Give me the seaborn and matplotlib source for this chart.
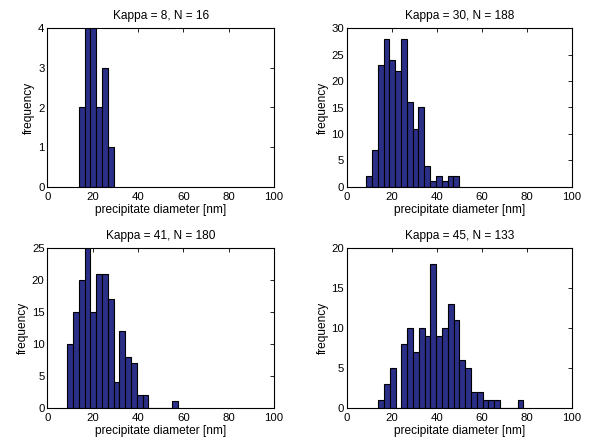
import numpy as np
import pandas as pd
import matplotlib
matplotlib.use("Agg")
import matplotlib.pyplot as plt
import seaborn as sns

sns.set_theme(style="white")
plt.rcParams['font.family'] = ['Liberation Sans', 'DejaVu Sans']
plt.rcParams['text.color'] = 'black'
plt.rcParams['axes.labelcolor'] = 'black'

titles = ["Kappa = 8, N = 16", "Kappa = 30, N = 188",
          "Kappa = 41, N = 180", "Kappa = 45, N = 133"]

# histogram counts per bin
counts_k8 = [2, 4, 4, 2, 3, 1]
counts_k30 = [2, 7, 23, 28, 24, 22, 28, 16, 11, 15, 4, 1, 2, 1, 2, 2]
counts_k41 = [10, 15, 20, 25, 15, 21, 21, 17, 4, 12, 8, 7, 2, 2, 0, 0, 0, 0, 1]
counts_k45 = [1, 3, 5, 0, 8, 10, 7, 10, 9, 18, 9, 10, 13, 11, 6, 5, 2, 2,
              1, 1, 1, 0, 0, 0, 1]

# first bin edge and bin width [nm]
bin_starts = [13.8, 8.6, 8.8, 14.0]
bin_widths = [2.62, 2.59, 2.56, 2.58]

y_maxes = [4, 30, 25, 20]
y_steps = [1, 5, 5, 5]
x_ticks = [0, 20, 40, 60, 80, 100]

all_counts = [counts_k8, counts_k30, counts_k41, counts_k45]

W, H = 593, 444
fig = plt.figure(figsize=(W / 100, H / 100), dpi=100)

positions = [
    [47.3 / W, 1 - 186.7 / H, 226.7 / W, 158.4 / H],
    [346.7 / W, 1 - 186.7 / H, 225.0 / W, 158.4 / H],
    [47.3 / W, 1 - 407.7 / H, 226.7 / W, 159.4 / H],
    [346.7 / W, 1 - 407.7 / H, 225.0 / W, 159.4 / H],
]

bar_color = "#2b2f87"
fs_label = 8.6
fs_tick = 8.2

for i in range(4):
    ax = fig.add_axes(positions[i])
    counts = np.array(all_counts[i], dtype=float)
    n = len(counts)
    edges = bin_starts[i] + bin_widths[i] * np.arange(n + 1)
    centers = (edges[:-1] + edges[1:]) / 2
    df = pd.DataFrame({"diameter": centers, "count": counts})
    sns.histplot(data=df, x="diameter", weights="count",
                 bins=[float(e) for e in edges],
                 color=bar_color, edgecolor="black", linewidth=0.8,
                 alpha=1.0, ax=ax)
    ax.set_xlim(0, 100)
    ax.set_ylim(0, y_maxes[i])
    ax.set_xticks(x_ticks)
    ax.set_yticks(np.arange(0, y_maxes[i] + 0.001, y_steps[i]))
    ax.tick_params(direction="in", length=3, width=0.6, top=True, right=True,
                   labelsize=fs_tick, colors="black")
    ax.tick_params(axis="x", pad=3.5)
    ax.tick_params(axis="y", pad=2)
    for sp in ax.spines.values():
        sp.set_visible(True)
        sp.set_color("black")
        sp.set_linewidth(0.8)
    ax.set_title(titles[i], fontsize=fs_label, pad=6.5, color="black")
    ax.set_xlabel("precipitate diameter [nm]", fontsize=fs_label, labelpad=1.5)
    ax.set_ylabel("frequency", fontsize=fs_label, labelpad=2)
    ax.grid(False)

fig.savefig("out.png", dpi=100, facecolor="white")
